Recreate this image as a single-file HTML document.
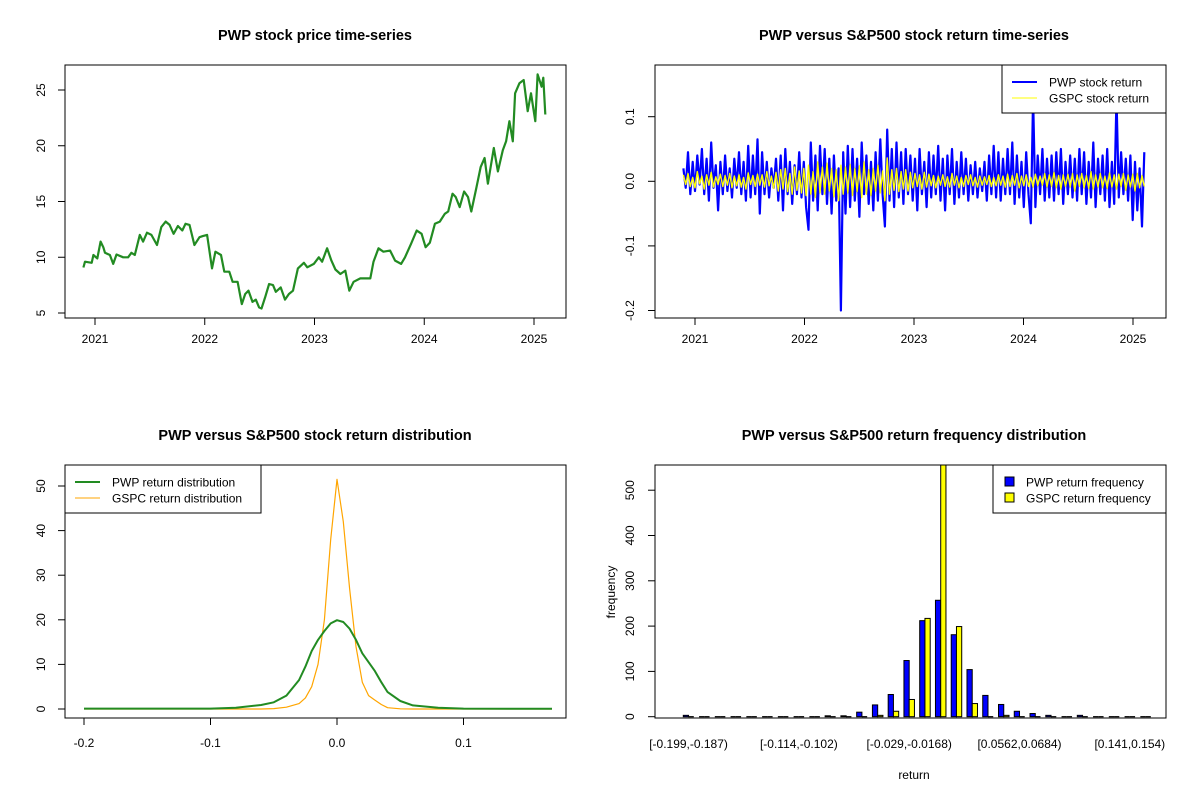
<!DOCTYPE html>
<html><head><meta charset="utf-8"><style>
body{margin:0;background:#fff}
svg{display:block;font-family:"Liberation Sans",Arial,sans-serif}
</style></head><body>
<svg id="s" width="1200" height="800" viewBox="0 0 1200 800"></svg>
<script>
// ---- data ----
const priceDates=[2020.894,2020.909,2020.970,2020.985,2021.021,2021.051,2021.076,2021.091,2021.136,2021.166,2021.196,2021.257,2021.302,2021.332,2021.363,2021.408,2021.438,2021.474,2021.514,2021.565,2021.604,2021.644,2021.680,2021.716,2021.755,2021.795,2021.825,2021.861,2021.906,2021.952,2021.982,2022.021,2022.066,2022.097,2022.148,2022.178,2022.224,2022.254,2022.299,2022.338,2022.369,2022.399,2022.435,2022.465,2022.495,2022.517,2022.550,2022.586,2022.622,2022.647,2022.692,2022.731,2022.767,2022.804,2022.849,2022.903,2022.934,2022.994,2023.039,2023.069,2023.115,2023.154,2023.190,2023.236,2023.281,2023.317,2023.356,2023.417,2023.508,2023.538,2023.583,2023.628,2023.689,2023.734,2023.789,2023.825,2023.879,2023.931,2023.976,2024.012,2024.051,2024.097,2024.142,2024.187,2024.218,2024.257,2024.287,2024.323,2024.363,2024.399,2024.429,2024.474,2024.514,2024.550,2024.580,2024.634,2024.671,2024.716,2024.746,2024.776,2024.807,2024.828,2024.867,2024.906,2024.943,2024.973,2025.012,2025.033,2025.069,2025.085,2025.103];
const priceValues=[9.08,9.6,9.5,10.2,9.9,11.4,10.9,10.4,10.2,9.4,10.25,10.0,10.0,10.4,10.2,12.0,11.4,12.2,12.0,11.1,12.7,13.2,12.9,12.1,12.8,12.4,13.0,12.9,11.1,11.8,11.9,12.0,9.0,10.5,10.2,8.7,8.7,7.8,7.8,5.8,6.7,7.0,6.0,6.2,5.5,5.4,6.4,7.6,7.5,6.9,7.3,6.2,6.7,7.0,9.0,9.5,9.1,9.4,10.0,9.6,10.8,9.7,8.9,8.5,8.8,7.0,7.8,8.1,8.1,9.6,10.8,10.5,10.6,9.7,9.4,10.0,11.2,12.4,12.1,10.9,11.3,13.0,13.2,13.9,14.1,15.7,15.4,14.5,15.9,15.4,14.1,16.2,18.1,18.9,16.6,19.8,17.7,19.6,20.4,22.2,20.4,24.7,25.6,25.9,23.1,24.7,22.2,26.4,25.3,26.1,22.8];
const retStart=2020.894, retEnd=2025.103;
const pwpReturns=[0.02,-0.01,0.045,-0.02,0.03,-0.015,0.04,-0.005,0.05,-0.02,0.035,-0.03,0.06,-0.01,0.025,-0.045,0.03,-0.02,0.04,-0.015,0.02,-0.025,0.035,-0.01,0.045,-0.02,0.03,-0.03,0.055,-0.025,0.04,-0.02,0.065,-0.05,0.045,-0.02,0.03,-0.025,0.02,-0.01,0.035,-0.03,0.04,-0.045,0.05,-0.02,0.03,-0.035,0.025,-0.02,0.045,-0.025,0.03,-0.04,-0.075,0.06,-0.03,0.04,-0.045,0.055,-0.02,0.05,-0.035,0.035,-0.05,0.04,-0.03,0.02,-0.2,0.045,-0.05,0.055,-0.04,0.05,-0.03,0.035,-0.055,0.06,-0.02,0.04,-0.035,0.03,-0.045,0.045,-0.03,0.065,-0.02,-0.07,0.08,-0.03,0.05,-0.04,0.06,-0.025,0.045,-0.035,0.05,-0.02,0.04,-0.03,0.035,-0.045,0.05,-0.02,0.03,-0.04,0.045,-0.025,0.04,-0.02,0.055,-0.03,0.035,-0.045,0.04,-0.02,0.05,-0.035,0.03,-0.025,0.045,-0.02,0.035,-0.03,0.025,-0.02,0.03,-0.025,0.02,-0.015,0.03,-0.03,0.04,-0.02,0.055,-0.025,0.045,-0.03,0.035,-0.02,0.05,-0.02,0.06,-0.035,0.04,-0.025,0.03,-0.04,0.045,-0.02,-0.065,0.13,-0.04,0.04,-0.02,0.05,-0.03,0.035,-0.025,0.04,-0.03,0.045,-0.02,0.05,-0.035,0.03,-0.02,0.04,-0.025,0.035,-0.03,0.05,-0.02,0.045,-0.035,0.03,-0.025,0.06,-0.04,0.035,-0.02,0.04,-0.03,0.05,-0.04,0.03,-0.035,0.13,-0.025,0.045,-0.02,0.035,-0.03,0.04,-0.06,0.03,-0.045,0.02,-0.07,0.045];
const gspcReturns=[0.01,-0.005,0.012,-0.008,0.006,-0.01,0.015,-0.004,0.008,-0.012,0.01,-0.006,0.014,-0.009,0.007,-0.005,0.011,-0.008,0.009,-0.006,0.012,-0.01,0.008,-0.007,0.01,-0.009,0.006,-0.012,0.013,-0.005,0.009,-0.008,0.011,-0.006,0.01,-0.009,0.015,-0.007,0.008,-0.011,0.014,-0.015,0.018,-0.012,0.02,-0.016,0.012,-0.02,0.022,-0.014,0.016,-0.018,0.02,-0.022,0.025,-0.02,0.015,-0.025,0.03,-0.018,0.022,-0.02,0.028,-0.015,0.02,-0.024,0.018,-0.03,0.025,-0.02,0.022,-0.018,0.026,-0.022,0.02,-0.016,0.024,-0.025,0.03,-0.02,0.018,-0.022,0.02,-0.015,0.025,-0.018,0.016,-0.03,0.036,-0.02,0.018,-0.014,0.02,-0.016,0.015,-0.012,0.018,-0.015,0.014,-0.01,0.012,-0.008,0.01,-0.012,0.014,-0.009,0.011,-0.007,0.009,-0.01,0.008,-0.006,0.01,-0.008,0.007,-0.009,0.012,-0.006,0.008,-0.01,0.006,-0.008,0.009,-0.005,0.01,-0.007,0.006,-0.009,0.008,-0.006,0.007,-0.005,0.009,-0.008,0.006,-0.007,0.01,-0.006,0.008,-0.009,0.011,-0.008,0.009,-0.006,0.012,-0.01,0.008,-0.007,0.01,-0.008,0.006,-0.009,0.011,-0.007,0.008,-0.006,0.012,-0.009,0.01,-0.008,0.014,-0.01,0.009,-0.012,0.01,-0.008,0.011,-0.009,0.012,-0.015,0.01,-0.008,0.012,-0.01,0.009,-0.011,0.015,-0.012,0.01,-0.009,0.012,-0.01,0.008,-0.011,0.013,-0.009,0.01,-0.012,0.011,-0.008,0.012,-0.014,0.01,-0.009,0.011,-0.015,0.012,-0.01,0.009,-0.008];
const densX=[-0.2,-0.1,-0.08,-0.06,-0.05,-0.04,-0.03,-0.025,-0.02,-0.015,-0.01,-0.005,0,0.005,0.01,0.015,0.02,0.025,0.03,0.035,0.04,0.05,0.06,0.08,0.1,0.17];
const densPWP=[0.1,0.1,0.3,0.9,1.5,3.0,6.5,9.5,13,15.5,17.5,19.2,19.9,19.5,18,15.5,12.5,10.5,8.5,6,3.8,1.8,0.8,0.3,0.1,0.05];
const densGSPC=[0,0,0,0,0.1,0.4,1.2,2.5,5,10,20,38,51.5,42,27,14,6,3,2,1,0.3,0.05,0,0,0,0];
const binLabels=["[-0.199,-0.187)","[-0.114,-0.102)","[-0.029,-0.0168)","[0.0562,0.0684)","[0.141,0.154)"];
const binLabelIdx=[0,7,14,21,28];
const freqPWP=[3,0,0,0,0,0,0,0,0,2,2,10,26,49,124,212,257,181,104,47,27,12,7,3,0,3,0,0,0,0];
const freqGSPC=[0,0,0,0,0,0,0,0,0,0,0,0,3,12,38,217,600,199,29,0,3,0,0,0,0,0,0,0,0,0];
const yearTicks=[2021,2022,2023,2024,2025];

// ---- helpers ----
const S=document.getElementById('s');const NS='http://www.w3.org/2000/svg';
function el(tag,a,txt,parent){const e=document.createElementNS(NS,tag);for(const k in a)e.setAttribute(k,a[k]);if(txt!=null)e.textContent=txt;(parent||S).appendChild(e);return e;}
function lin(d0,d1,r0,r1){return v=>r0+(v-d0)*(r1-r0)/(d1-d0);}
function group(name){const g=el('g',{});return g;}
function title(g,x,t){const e=el('text',{x:x,y:t.y,'text-anchor':'middle','font-size':'14.5','font-weight':'bold'},t.s,g);}
function box(g,x0,y0,x1,y1){const r=el('rect',{x:x0,y:y0,width:x1-x0,height:y1-y0,fill:'none',stroke:'#000','stroke-width':1},null,g);}
function xAxis(g,y,ticks,fx,labels,ly){const a=el('g',{},null,g);
 el('line',{x1:fx(ticks[0]),x2:fx(ticks[ticks.length-1]),y1:y,y2:y,stroke:'#000'},null,a);
 ticks.forEach((t,i)=>{el('line',{x1:fx(t),x2:fx(t),y1:y,y2:y+7,stroke:'#000'},null,a);const tx=el('text',{x:fx(t),y:ly,'text-anchor':'middle','font-size':'12'},labels[i],a);});}
function yAxis(g,x,ticks,fy,labels,lx){const a=el('g',{},null,g);
 el('line',{x1:x,x2:x,y1:fy(ticks[0]),y2:fy(ticks[ticks.length-1]),stroke:'#000'},null,a);
 ticks.forEach((t,i)=>{el('line',{x1:x,x2:x-7,y1:fy(t),y2:fy(t),stroke:'#000'},null,a);const tx=el('text',{x:lx,y:fy(t),'text-anchor':'middle','font-size':'12',transform:`rotate(-90 ${lx} ${fy(t)})`},labels[i],a);});}
function poly(g,xs,ys,fx,fy,col,w,name){const p=el('polyline',{points:xs.map((x,i)=>fx(x).toFixed(1)+','+fy(ys[i]).toFixed(1)).join(' '),fill:'none',stroke:col,'stroke-width':w,'stroke-linejoin':'round'},null,g);}
function legend(g,x0,y0,x1,y1,items){const lg=el('g',{},null,g);
 el('rect',{x:x0,y:y0,width:x1-x0,height:y1-y0,fill:'#fff',stroke:'#000'},null,lg);
 items.forEach((it,i)=>{const yy=y0+17+i*16;const e=el('g',{},null,lg);
  if(it.box){el('rect',{x:x0+12,y:yy-5,width:9,height:9,fill:it.col,stroke:'#000'},null,e);}
  else el('line',{x1:x0+10,x2:x0+35,y1:yy,y2:yy,stroke:it.col,'stroke-width':it.w},null,e);
  el('text',{x:x0+(it.box?33:47),y:yy+4.5,'font-size':'12'},it.t,e);});}

// ---- panel 1: price ----
(function(){const g=group('price-panel');title(g,315,{y:40,s:'PWP stock price time-series'});
 const fx=lin(2021,2025,95,534),fy=lin(5,25,313,90);
 poly(g,priceDates,priceValues,fx,fy,'#228b22',2.2,'price-line');
 box(g,65,65,566,318);
 xAxis(g,318,yearTicks,fx,yearTicks.map(String),343);
 yAxis(g,65,[5,10,15,20,25],fy,['5','10','15','20','25'],45);})();

// ---- panel 2: returns ----
(function(){const g=group('return-panel');title(g,914,{y:40,s:'PWP versus S&P500 stock return time-series'});
 const fx=lin(2021,2025,695,1133),fy=lin(0,0.1,181.3,116.7);
 const n=pwpReturns.length,dp=pwpReturns.map((_,i)=>retStart+i*(retEnd-retStart)/(n-1));
 const m=gspcReturns.length,dg=gspcReturns.map((_,i)=>retStart+i*(retEnd-retStart)/(m-1));
 poly(g,dp,pwpReturns,fx,fy,'#0000ff',2.2,'pwp-return-line');
 poly(g,dg,gspcReturns,fx,fy,'#ffff00',1.4,'gspc-return-line');
 box(g,655,65,1166,318);
 xAxis(g,318,yearTicks,fx,yearTicks.map(String),343);
 yAxis(g,655,[-0.2,-0.1,0,0.1],fy,['-0.2','-0.1','0.0','0.1'],634);
 legend(g,1002,65,1166,113,[{col:'#0000ff',w:2,t:'PWP stock return'},{col:'#ffff00',w:1,t:'GSPC stock return'}]);})();

// ---- panel 3: density ----
(function(){const g=group('density-panel');title(g,315,{y:440,s:'PWP versus S&P500 stock return distribution'});
 const fx=lin(0,0.1,337,463.5),fy=lin(0,50,709,486);
 poly(g,densX,densGSPC,fx,fy,'#ffa500',1.2,'gspc-density-line');
 poly(g,densX,densPWP,fx,fy,'#228b22',2,'pwp-density-line');
 box(g,65,465,566,718);
 xAxis(g,718,[-0.2,-0.1,0,0.1],fx,['-0.2','-0.1','0.0','0.1'],747);
 yAxis(g,65,[0,10,20,30,40,50],fy,['0','10','20','30','40','50'],45);
 legend(g,65,465,261,513,[{col:'#228b22',w:2,t:'PWP return distribution'},{col:'#ffa500',w:1,t:'GSPC return distribution'}]);})();

// ---- panel 4: histogram ----
(function(){const g=group('histogram-panel');title(g,914,{y:440,s:'PWP versus S&P500 return frequency distribution'});
 const fy=lin(0,100,716.7,671.4);const gx=i=>683.3+i*15.76;
 const clip=el('clipPath',{id:'hc'},null,g);el('rect',{x:655,y:465,width:511,height:253},null,clip);
 const bars=el('g',{'clip-path':'url(#hc)'},null,g);
 function bar(x,v,col,name){let b;
  if(v<=0){b=el('line',{x1:x,x2:x+5.25,y1:fy(0),y2:fy(0),stroke:'#000','stroke-width':1.2},null,bars);}
  else b=el('rect',{x:x,y:fy(v),width:5.25,height:fy(0)-fy(v),fill:col,stroke:'#000','stroke-width':1},null,bars);
  }
 freqPWP.forEach((v,i)=>bar(gx(i),v,'#0000ff','bar-pwp'));
 freqGSPC.forEach((v,i)=>bar(gx(i)+5.25,v,'#ffff00','bar-gspc'));
 box(g,655,465,1166,718);
 const a=el('g',{},null,g);
 binLabelIdx.forEach((k,i)=>{const t=el('text',{x:gx(k)+5.25,y:748,'text-anchor':'middle','font-size':'12'},binLabels[i],a);});
 yAxis(g,655,[0,100,200,300,400,500],fy,['0','100','200','300','400','500'],634);
 const xt=el('text',{x:914,y:779,'text-anchor':'middle','font-size':'12'},'return',g);
 const yt=el('text',{x:615,y:592,'text-anchor':'middle','font-size':'12',transform:'rotate(-90 615 592)'},'frequency',g);
 legend(g,993,465,1166,513,[{col:'#0000ff',box:true,t:'PWP return frequency'},{col:'#ffff00',box:true,t:'GSPC return frequency'}]);})();
</script>
</body></html>
